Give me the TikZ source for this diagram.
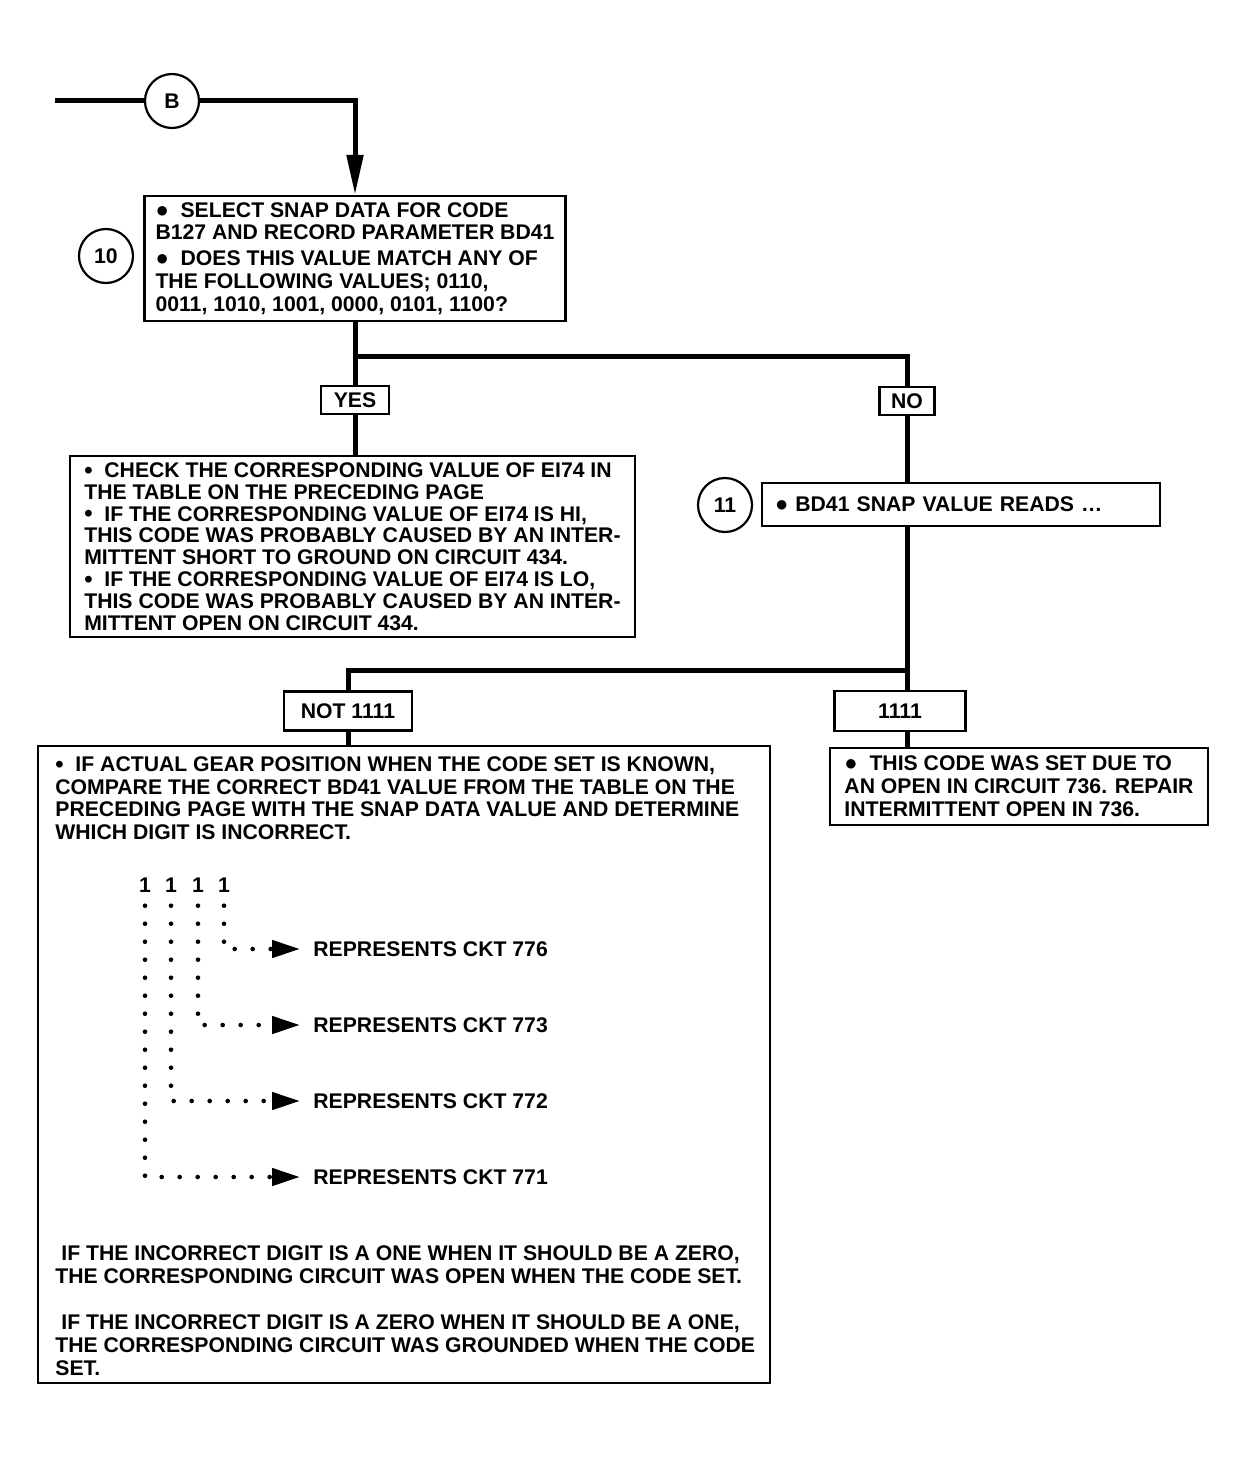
\documentclass[tikz,border=0pt]{standalone}
\usepackage{fontspec}
\setmainfont{Liberation Sans}
\usetikzlibrary{arrows.meta}
\newcommand{\bigbul}{{\fontsize{11}{11}\selectfont ●}}
\newcommand{\smbul}{\smash{\raisebox{-0.04em}{\scalebox{1.12}{\textbullet}}}}
\tikzset{
  flow/.style={line width=2.5pt},
  boxfont/.style={font=\fontsize{10.6}{11.4}\selectfont\bfseries},
  box/.style={draw,line width=1.1pt,align=left,inner sep=0pt,boxfont},
  tag/.style={draw,line width=1.1pt,inner sep=0pt,boxfont},
  stepno/.style={draw,circle,line width=1.1pt,inner sep=0pt,minimum size=27pt,boxfont},
  txt/.style={align=left,inner sep=0pt,boxfont},
  dots/.style={line width=2.3pt,line cap=round,dash pattern=on 0pt off 9pt,
    -{Triangle[length=14pt,width=8.5pt]},shorten <=6.5pt,shorten >=6.5pt},
}
\begin{document}
\begin{tikzpicture}[x=0.5pt,y=-0.5pt]
\useasboundingbox (0,0) rectangle (1247,1461);
\coordinate (start) at (55,101);
\node[stepno] (B) at (172,101) {B};
\node[box,minimum width=210.5pt,minimum height=62.5pt] (q10) at (355,258.5)
  {\bigbul\ \ SELECT SNAP DATA FOR CODE\\
   B127 AND RECORD PARAMETER BD41\\[1.5pt]
   \bigbul\ \ DOES THIS VALUE MATCH ANY OF\\
   THE FOLLOWING VALUES; 0110,\\
   0011, 1010, 1001, 0000, 0101, 1100?};
\node[stepno] (s10) at (106,256) {10};
\coordinate (j1) at (355,356);
\node[tag,minimum width=34pt,minimum height=14pt] (yes) at (355,400) {YES};
\node[tag,minimum width=27.5pt,minimum height=14pt] (no) at (907,401) {NO};
\node[box,minimum width=282.5pt,minimum height=90.5pt,font=\fontsize{10.6}{10.9}\selectfont\bfseries] (chk) at (352.5,546.5)
  {\smbul\ \ CHECK THE CORRESPONDING VALUE OF EI74 IN\\
   THE TABLE ON THE PRECEDING PAGE\\
   \smbul\ \ IF THE CORRESPONDING VALUE OF EI74 IS HI,\\
   THIS CODE WAS PROBABLY CAUSED BY AN INTER-\\
   MITTENT SHORT TO GROUND ON CIRCUIT 434.\\
   \smbul\ \ IF THE CORRESPONDING VALUE OF EI74 IS LO,\\
   THIS CODE WAS PROBABLY CAUSED BY AN INTER-\\
   MITTENT OPEN ON CIRCUIT 434.};
\node[box,minimum width=199pt,minimum height=21.5pt,text width=186pt] (q11) at (961,504.5)
  {\bigbul\ BD41 SNAP VALUE READS \dots};
\node[stepno] (s11) at (725,505) {11};
\coordinate (j2) at (907,670);
\node[tag,minimum width=64pt,minimum height=19.5pt] (not) at (348,711) {NOT 1111};
\node[tag,minimum width=65.5pt,minimum height=20pt] (one) at (900,711) {1111};
\node[box,minimum width=189pt,minimum height=38.5pt] (opn) at (1019,786.5)
  {\bigbul\ \ THIS CODE WAS SET DUE TO\\
   AN OPEN IN CIRCUIT 736. REPAIR\\
   INTERMITTENT OPEN IN 736.};
\node[box,minimum width=366pt,minimum height=318.5pt] (gear) at (404,1064.5) {};
\node[txt,anchor=north west] (gtop) at (55,756)
  {\smbul\ \ IF ACTUAL GEAR POSITION WHEN THE CODE SET IS KNOWN,\\
   COMPARE THE CORRECT BD41 VALUE FROM THE TABLE ON THE\\
   PRECEDING PAGE WITH THE SNAP DATA VALUE AND DETERMINE\\
   WHICH DIGIT IS INCORRECT.};
\node[txt,anchor=north west] (gbot) at (55,1245)
  {\hspace*{3pt}IF THE INCORRECT DIGIT IS A ONE WHEN IT SHOULD BE A ZERO,\\
   THE CORRESPONDING CIRCUIT WAS OPEN WHEN THE CODE SET.\\[12pt]
   \hspace*{3pt}IF THE INCORRECT DIGIT IS A ZERO WHEN IT SHOULD BE A ONE,\\
   THE CORRESPONDING CIRCUIT WAS GROUNDED WHEN THE CODE\\
   SET.};
\node[txt] (d1) at (145,885) {1};
\node[txt] (d2) at (171,885) {1};
\node[txt] (d3) at (198,885) {1};
\node[txt] (d4) at (224,885) {1};
\node[txt,anchor=west] (r776) at (313,949) {REPRESENTS CKT 776};
\node[txt,anchor=west] (r773) at (313,1025) {REPRESENTS CKT 773};
\node[txt,anchor=west] (r772) at (313,1101) {REPRESENTS CKT 772};
\node[txt,anchor=west] (r771) at (313,1177) {REPRESENTS CKT 771};
\draw[flow] (start) -- (B);
\draw[flow,-{Triangle[length=20pt,width=8pt]}] (B) -| (q10);
\draw[flow] (q10) -- (yes);
\draw[flow] (j1) -| (no);
\draw[flow] (yes) -- (yes |- chk.north);
\draw[flow] (no) -- (no |- q11.north);
\draw[flow] (no |- q11.south) -- (j2) -| (not);
\draw[flow] (j2) -- (j2 |- one.north);
\draw[flow] (j2 |- one.south) -- (j2 |- opn.north);
\draw[flow] (not) -- (not |- gear.north);
\draw[dots] (d4) |- (r776);
\draw[dots] (d3) |- (r773);
\draw[dots] (d2) |- (r772);
\draw[dots] (d1) |- (r771);
\end{tikzpicture}
\end{document}
